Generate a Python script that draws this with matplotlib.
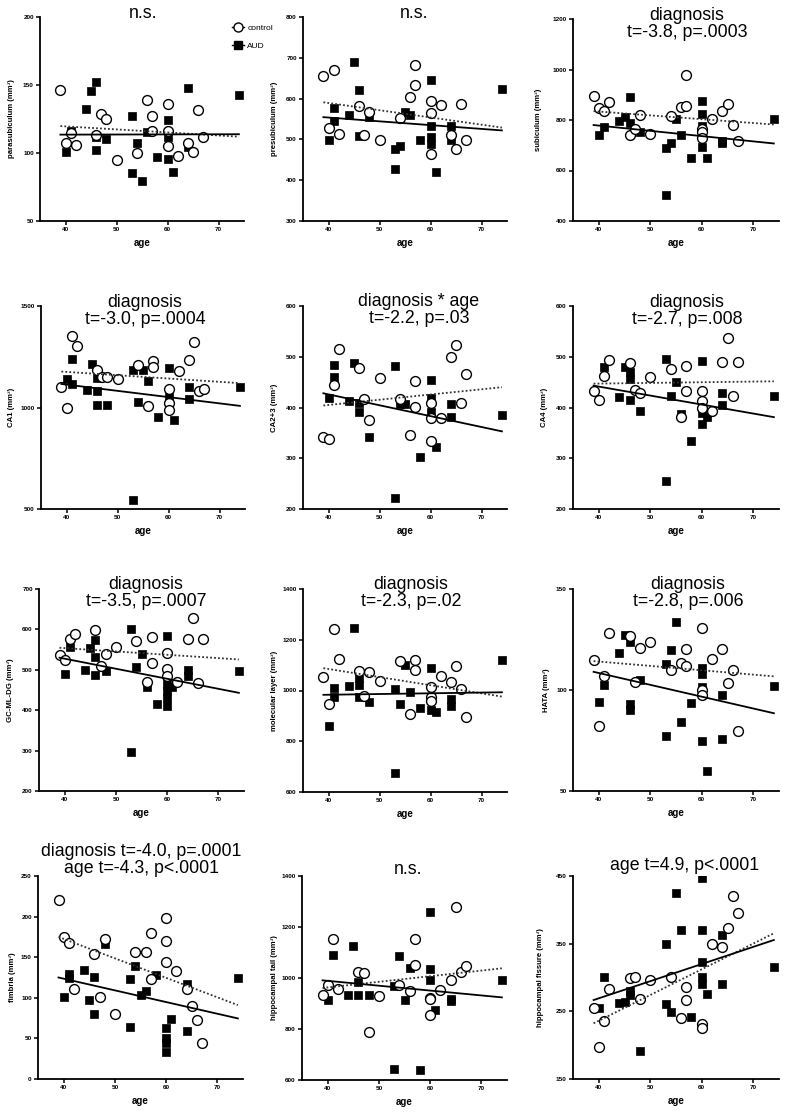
import matplotlib
matplotlib.use("Agg")
import matplotlib.pyplot as plt
from matplotlib.lines import Line2D

plt.rcParams['font.family'] = ['Liberation Sans', 'DejaVu Sans']

FIT_AGES = [39, 74]
CTRL_AGES = [39, 40, 41, 42, 46, 47, 48, 50, 54, 56, 57, 57, 60, 60, 60, 62, 64, 65, 66, 67]

# ---- parasubiculum ----
para_ctrl_val = [146, 107.5, 114.4, 106, 113.5, 128.8, 125, 94.5, 100, 139, 127, 116, 136, 116, 105.5, 97.5, 107.5, 101, 131.5, 111.7]
para_aud_age = [40, 41, 44, 45, 46, 46, 46, 48, 53, 53, 54, 55, 56, 58, 60, 60, 60, 61, 64, 64, 74]
para_aud_val = [100.4, 116, 132, 145.7, 152, 111.4, 102, 110.5, 127.3, 85, 107, 79.4, 115.6, 97.2, 124, 112, 95.3, 86, 147.6, 104.6, 142.5]
para_fit_ctrl = [119.8, 112]
para_fit_aud = [113.5, 113.8]

# ---- presubiculum ----
pre_ctrl_val = [656, 527, 669.5, 513, 581, 512, 567, 499, 552, 603.5, 682, 633.6, 593.6, 564, 463, 585, 510, 477, 587, 499]
pre_aud_age = [40, 41, 41, 44, 45, 46, 46, 48, 53, 53, 54, 55, 56, 58, 60, 60, 60, 60, 61, 64, 64, 74]
pre_aud_val = [499, 578, 545.5, 560, 689, 620, 508, 556, 477, 427, 483.5, 567.5, 559.4, 497.4, 645, 534, 504.7, 487.6, 420, 533, 498, 624.6]
pre_fit_ctrl = [591, 529]
pre_fit_aud = [554.5, 522]

# ---- subiculum ----
sub_ctrl_val = [897, 849, 834, 871, 739.5, 764, 821, 746, 817, 851, 854, 979, 763, 752, 728, 805, 836, 862, 782, 717]
sub_aud_age = [40, 41, 44, 45, 46, 46, 48, 53, 53, 54, 55, 56, 58, 60, 60, 60, 60, 61, 64, 64, 74]
sub_aud_val = [742, 771, 797, 813, 892, 789, 754, 691, 504, 708, 803, 739.5, 651, 875, 824, 775, 693, 649, 707, 716, 803]
sub_fit_ctrl = [835, 782]
sub_fit_aud = [780, 707]

# ---- CA1 ----
ca1_ctrl_val = [1103, 1000, 1354, 1305, 1183.5, 1149, 1149, 1141, 1210, 1005, 1231, 1198, 1092, 1021, 988.5, 1182, 1233, 1324.5, 1082, 1092]
ca1_aud_age = [40, 41, 41, 44, 45, 46, 46, 46, 48, 53, 53, 54, 55, 56, 58, 60, 60, 61, 64, 64, 74]
ca1_aud_val = [1138, 1239, 1115, 1087, 1215, 1147.5, 1082, 1010, 1011.5, 1185, 546, 1025, 1185, 1133, 951, 1197, 1054, 939, 1102, 1043, 1100]
ca1_fit_ctrl = [1177, 1120]
ca1_fit_aud = [1116, 1008]

# ---- CA2+3 ----
ca23_ctrl_val = [341, 338.5, 444, 516, 477, 417.6, 375, 457.5, 417.6, 346.4, 452, 400.6, 408.5, 379, 334.6, 379, 498.7, 524, 408, 466]
ca23_aud_age = [40, 41, 41, 44, 45, 46, 46, 48, 53, 53, 54, 55, 58, 60, 60, 60, 61, 64, 64, 74]
ca23_aud_val = [418, 483.7, 461, 413.7, 488, 408.5, 391, 342.5, 482, 222, 407, 407, 302.6, 454, 418, 392, 321.6, 407, 381, 386]
ca23_fit_ctrl = [404, 440]
ca23_fit_aud = [428, 353]

# ---- CA4 ----
ca4_ctrl_val = [433, 415, 463, 493, 488, 434, 429.5, 461, 476.7, 382, 482.6, 433, 433, 412, 400, 394, 489, 536, 423, 490]
ca4_aud_age = [41, 44, 45, 46, 46, 46, 48, 53, 53, 54, 55, 56, 58, 60, 60, 60, 61, 64, 64, 74]
ca4_aud_val = [479, 421.6, 479, 469.5, 456, 415, 393, 495, 255.7, 423, 450.5, 387, 334, 492, 389, 367, 382, 428, 405, 422]
ca4_fit_ctrl = [447, 451.6]
ca4_fit_aud = [443, 381]

# ---- GC-ML-DG ----
gc_ctrl_val = [536, 524, 576, 588, 598, 509, 539, 557, 571, 469.4, 581, 515.7, 540.5, 501.7, 484, 469.4, 577, 629, 468, 576]
gc_aud_age = [40, 41, 44, 45, 46, 46, 46, 48, 53, 53, 54, 55, 56, 58, 60, 60, 60, 60, 60, 61, 64, 64, 74]
gc_aud_val = [489, 557, 500, 554.5, 575, 532, 487, 497, 600, 296, 507, 538, 458, 415, 583.5, 466, 447, 430.6, 410.8, 458, 499, 484, 497.5]
gc_fit_ctrl = [554.5, 525.6]
gc_fit_aud = [530, 443]

# ---- molecular layer ----
ml_ctrl_val = [1055, 946, 1242, 1124, 1076, 980, 1074, 1035.5, 1114.5, 909, 1121, 1082, 1013, 974, 960.5, 1058, 1033, 1097, 1005, 895]
ml_aud_age = [40, 41, 41, 44, 45, 46, 46, 46, 48, 53, 53, 54, 55, 56, 58, 60, 60, 61, 64, 64, 74]
ml_aud_val = [860.5, 1009, 976, 1018, 1246, 1050, 1021, 975, 954, 1005, 674, 946, 1101, 996, 931.6, 1088, 923.7, 916, 966, 937, 1118.5]
ml_fit_ctrl = [1088, 976]
ml_fit_aud = [983, 993]

# ---- HATA ----
hata_ctrl_val = [115, 82.4, 107, 128, 126.5, 104, 120.6, 123.7, 110, 113.5, 120.4, 112, 130.5, 100, 97.4, 115.5, 120.4, 103.3, 110, 79.6]
hata_aud_age = [40, 41, 44, 45, 46, 46, 46, 48, 53, 53, 54, 55, 56, 58, 60, 60, 60, 60, 61, 64, 64, 74]
hata_aud_val = [94, 102.3, 118.4, 127, 123.7, 93.2, 90, 105, 77.3, 112.7, 120, 133.8, 84, 93.7, 110.7, 108, 101.5, 74.6, 59.8, 97.4, 75.6, 102]
hata_fit_ctrl = [114.3, 106.75]
hata_fit_aud = [109, 88.5]

# ---- fimbria ----
fim_ctrl_val = [220, 175, 168, 111, 153.7, 101, 171.8, 80, 157, 156.6, 180, 123.4, 198, 169.7, 144.7, 132.8, 111, 89.3, 72.5, 44]
fim_aud_age = [40, 41, 41, 44, 45, 46, 46, 48, 53, 53, 54, 55, 56, 58, 60, 60, 60, 60, 61, 64, 64, 74]
fim_aud_val = [101, 128.7, 124, 134, 97, 126, 79.5, 166.4, 123.4, 64.3, 139, 103, 108.6, 127.5, 62.3, 51, 44.6, 32.8, 73.4, 117.6, 59.4, 125]
fim_fit_ctrl = [175, 91]
fim_fit_aud = [125, 74.6]

# ---- hippocampal tail ----
tail_ctrl_val = [932, 972.5, 1153, 958, 1025, 1018, 790, 930.5, 971, 950, 1153, 1050, 921, 919, 856, 953, 993.4, 1279, 1025, 1048.5]
tail_aud_age = [40, 41, 44, 45, 46, 46, 48, 53, 53, 54, 55, 56, 58, 60, 60, 60, 61, 64, 64, 74]
tail_aud_val = [915, 1090.5, 932, 1124.5, 983, 932, 932, 967, 642, 1085, 912, 1039, 639.5, 1259.6, 1035, 991, 874, 911, 919, 992]
tail_fit_ctrl = [960.7, 1038]
tail_fit_aud = [990.8, 924]

# ---- hippocampal fissure ----
fis_ctrl_age = [39, 40, 41, 42, 46, 47, 48, 50, 54, 56, 57, 57, 60, 60, 62, 64, 65, 66, 67]
fis_ctrl_val = [255, 197.3, 235.7, 283.5, 300, 301, 268, 296, 301, 239.7, 286.5, 266.7, 231.3, 225, 349, 345.6, 373.6, 420.4, 396]
fis_aud_age = [40, 41, 44, 45, 46, 46, 48, 53, 53, 54, 55, 56, 58, 60, 60, 60, 60, 60, 61, 64, 64, 74]
fis_aud_val = [254.4, 300.7, 262, 264, 280.5, 274, 191.4, 349, 260.3, 249, 424.4, 370.7, 241, 446.5, 370.7, 322.4, 300.2, 290, 275.6, 362.3, 290, 316]
fis_fit_ctrl = [232.3, 365.3]
fis_fit_aud = [266.7, 355.4]

ylabels = ["parasubiculum (mm³)", "presubiculum (mm³)", "subiculum (mm³)",
           "CA1 (mm³)", "CA2+3 (mm³)", "CA4 (mm³)",
           "GC-ML-DG (mm³)", "molecular layer (mm³)", "HATA (mm³)",
           "fimbria (mm³)", "hippocampal tail (mm³)", "hippocampal fissure (mm³)"]
titles = ["n.s.", "n.s.", "diagnosis\nt=-3.8, p=.0003",
          "diagnosis\nt=-3.0, p=.0004", "diagnosis * age\nt=-2.2, p=.03", "diagnosis\nt=-2.7, p=.008",
          "diagnosis\nt=-3.5, p=.0007", "diagnosis\nt=-2.3, p=.02", "diagnosis\nt=-2.8, p=.006",
          "diagnosis t=-4.0, p=.0001\nage t=-4.3, p<.0001", "n.s.", "age t=4.9, p<.0001"]
yticks = [[50, 100, 150, 200], [300, 400, 500, 600, 700, 800], [400, 600, 800, 1000, 1200],
          [500, 1000, 1500], [200, 300, 400, 500, 600], [200, 300, 400, 500, 600],
          [200, 300, 400, 500, 600, 700], [600, 800, 1000, 1200, 1400], [50, 100, 150],
          [0, 50, 100, 150, 200, 250], [600, 800, 1000, 1200, 1400], [150, 250, 350, 450]]
xticks = [40, 50, 60, 70]

panels = [
    (CTRL_AGES, para_ctrl_val, para_aud_age, para_aud_val, para_fit_ctrl, para_fit_aud),
    (CTRL_AGES, pre_ctrl_val, pre_aud_age, pre_aud_val, pre_fit_ctrl, pre_fit_aud),
    (CTRL_AGES, sub_ctrl_val, sub_aud_age, sub_aud_val, sub_fit_ctrl, sub_fit_aud),
    (CTRL_AGES, ca1_ctrl_val, ca1_aud_age, ca1_aud_val, ca1_fit_ctrl, ca1_fit_aud),
    (CTRL_AGES, ca23_ctrl_val, ca23_aud_age, ca23_aud_val, ca23_fit_ctrl, ca23_fit_aud),
    (CTRL_AGES, ca4_ctrl_val, ca4_aud_age, ca4_aud_val, ca4_fit_ctrl, ca4_fit_aud),
    (CTRL_AGES, gc_ctrl_val, gc_aud_age, gc_aud_val, gc_fit_ctrl, gc_fit_aud),
    (CTRL_AGES, ml_ctrl_val, ml_aud_age, ml_aud_val, ml_fit_ctrl, ml_fit_aud),
    (CTRL_AGES, hata_ctrl_val, hata_aud_age, hata_aud_val, hata_fit_ctrl, hata_fit_aud),
    (CTRL_AGES, fim_ctrl_val, fim_aud_age, fim_aud_val, fim_fit_ctrl, fim_fit_aud),
    (CTRL_AGES, tail_ctrl_val, tail_aud_age, tail_aud_val, tail_fit_ctrl, tail_fit_aud),
    (fis_ctrl_age, fis_ctrl_val, fis_aud_age, fis_aud_val, fis_fit_ctrl, fis_fit_aud),
]

# layout in pixels: (left, bottom, right, top)
W, H = 785, 1113
boxes = [(40, 221, 244, 17), (303, 221, 507, 17), (573, 221, 779, 19),
         (41, 509, 245, 306), (303, 509, 507, 306), (573, 509, 779, 306),
         (39, 791, 244, 589), (303, 792, 507, 589), (573, 791, 779, 589),
         (38, 1079, 243, 876), (302, 1080, 507, 876), (573, 1079, 779, 876)]
title_pos = [(143, 14), (414, 14), (687, 24),
             (145, 311), (419, 310), (687, 311),
             (146, 593), (411, 593), (688, 593),
             (141, 860), (408, 870), (685, 866)]
ylab_off = [28, 28, 34, 29, 28, 29, 28, 29, 26, 25, 28, 32]

fig = plt.figure(figsize=(W / 100, H / 100), dpi=100)
axes = []
for i, (box, pdata) in enumerate(zip(boxes, panels)):
    l, b, r, t = box
    ax = fig.add_axes([l / W, 1 - b / H, (r - l) / W, (b - t) / H])
    axes.append(ax)
    cage, cval, aage, aval, fc, fa = pdata
    ax.scatter(aage, aval, marker='s', s=38, c='black', edgecolors='black', linewidths=0.5, zorder=3)
    ax.scatter(cage, cval, marker='o', s=50, c='white', edgecolors='black', linewidths=1.0, zorder=4)
    ax.plot(FIT_AGES, fc, linestyle=(0, (1, 1.2)), color='#333333', lw=1.3, zorder=5)
    ax.plot(FIT_AGES, fa, linestyle='-', color='black', lw=1.3, zorder=5)
    ax.set_xlim(35, 75)
    ax.set_ylim(yticks[i][0], yticks[i][-1])
    ax.set_xticks(xticks)
    ax.set_yticks(yticks[i])
    for s in ['top', 'right']:
        ax.spines[s].set_visible(False)
    for s in ['left', 'bottom']:
        ax.spines[s].set_linewidth(1.3)
    ax.tick_params(direction='out', length=3, width=1.1, labelsize=4.6, pad=1.5)
    for lab in ax.get_xticklabels() + ax.get_yticklabels():
        lab.set_fontweight('bold')
    ax.set_xlabel('age', fontsize=7, fontweight='bold')
    ax.xaxis.set_label_coords(0.5, -22 / (b - t))
    ax.xaxis.label.set_va('center')
    ax.set_ylabel(ylabels[i], fontsize=5.6, fontweight='bold')
    ax.yaxis.set_label_coords(-ylab_off[i] / (r - l), 0.5)
    ax.yaxis.label.set_va('center')
    tx, ty = title_pos[i]
    fig.text(tx / W, 1 - ty / H, titles[i], ha='center', va='center',
             fontsize=12.8, linespacing=1.05)

handles = [Line2D([], [], color='black', lw=1, marker='o', mfc='white', mec='black', ms=6.5),
           Line2D([], [], color='black', lw=1, marker='s', mfc='black', mec='black', ms=5.5)]
fig.legend(handles, ['control', 'AUD'], loc='upper left',
           bbox_to_anchor=(228 / W, 1 - 20 / H), bbox_transform=fig.transFigure,
           frameon=False, fontsize=6, borderpad=0, handlelength=1.4,
           handletextpad=0.4, labelspacing=1.2)

fig.savefig('out.png', dpi=100)
